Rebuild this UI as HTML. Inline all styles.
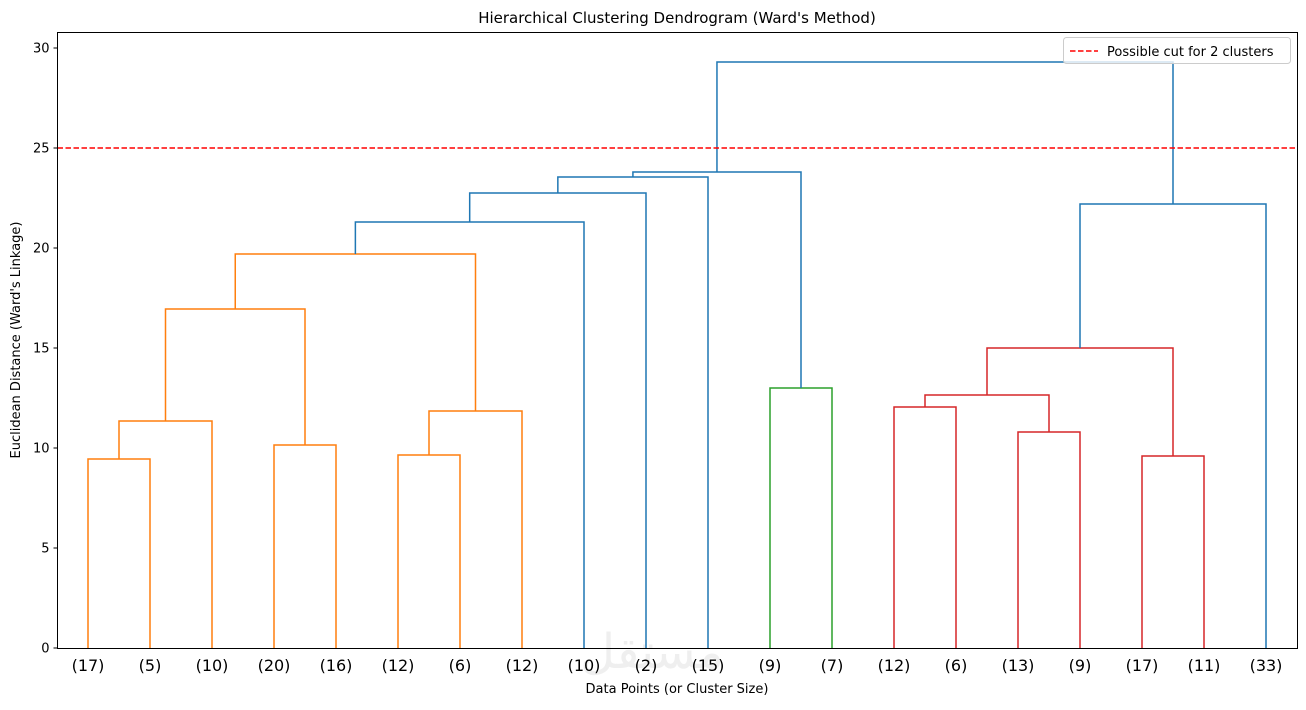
<!DOCTYPE html>
<html><head><meta charset="utf-8"><style>
body{margin:0;background:#fff;}
svg text{font-family:"DejaVu Sans","Liberation Sans",sans-serif;}
</style></head><body>
<svg id="chart" width="1306" height="705" xmlns="http://www.w3.org/2000/svg">
<rect width="1306" height="705" fill="#fff"/>
<text x="677" y="23" font-size="15" text-anchor="middle">Hierarchical Clustering Dendrogram (Ward's Method)</text>
<text x="652" y="668" font-size="48" fill="#000" opacity="0.06" text-anchor="middle" font-family="Liberation Sans, sans-serif">مستقل</text>
<g id="plot"></g>
<rect x="57.5" y="32.5" width="1240" height="616" fill="none" stroke="#000" stroke-width="1"/>
<text x="677" y="693" font-size="13" text-anchor="middle">Data Points (or Cluster Size)</text>
<text transform="translate(20,340) rotate(-90)" font-size="13" text-anchor="middle">Euclidean Distance (Ward's Linkage)</text>
<g>
<rect x="1063.5" y="37.5" width="227" height="26" rx="3" fill="#fff" fill-opacity="0.8" stroke="#ccc"/>
<line x1="1070" y1="51" x2="1098" y2="51" stroke="red" stroke-width="1.5" stroke-dasharray="5.5,2.5"/>
<text x="1107" y="56" font-size="13">Possible cut for 2 clusters</text>
</g>
</svg>
<script>
const leafLabels=["(17)","(5)","(10)","(20)","(16)","(12)","(6)","(12)","(10)","(2)","(15)","(9)","(7)","(12)","(6)","(13)","(9)","(17)","(11)","(33)"];
const mergeLeft=[0,20,3,21,5,24,23,26,27,28,11,29,13,15,32,17,34,36,31];
const mergeRight=[1,2,4,22,6,7,25,8,9,10,12,30,14,16,33,18,35,19,37];
const mergeHeights=[9.45,11.35,10.15,16.95,9.65,11.85,19.7,21.3,22.75,23.55,13.0,23.8,12.05,10.8,12.65,9.6,15.0,22.2,29.3];
const mergeColors=["o","o","o","o","o","o","o","b","b","b","g","b","r","r","r","r","r","b","b"];
const yTicks=[0,5,10,15,20,25,30];
const cutHeight=25;
const C={o:"#ff7f0e",b:"#1f77b4",g:"#2ca02c",r:"#d62728"};
const NS="http://www.w3.org/2000/svg";
const plot=document.getElementById("plot");
const x0=57.5,x1=1297.5,yBase=648,yTop=48;
const yS=v=>yBase-(v/30)*(yBase-yTop);
const n=leafLabels.length;
const xS=i=>88+i*(1266-88)/(n-1);
function mk(t,a){const e=document.createElementNS(NS,t);for(const k in a)e.setAttribute(k,a[k]);plot.appendChild(e);return e;}
yTicks.forEach(v=>{
 const y=yS(v);
 const l=mk("line",{x1:x0-4,x2:x0,y1:y,y2:y,stroke:"#000"});
 
 
 const t=mk("text",{x:x0-8,y:y+4.5,"font-size":13,"text-anchor":"end"});
 t.textContent=v;
 
 
});
const pos=[],hgt=[];
leafLabels.forEach((lab,i)=>{
 pos[i]=xS(i);hgt[i]=0;
 const t=mk("text",{x:xS(i),y:671,"font-size":16,"text-anchor":"middle"});
 t.textContent=lab;
 
 
});
mergeHeights.forEach((h,k)=>{
 const a=mergeLeft[k],b=mergeRight[k];
 const xa=pos[a],xb=pos[b];
 const d=`M${xa},${yS(hgt[a])}V${yS(h)}H${xb}V${yS(hgt[b])}`;
 const p=mk("path",{d,fill:"none",stroke:C[mergeColors[k]],"stroke-width":1.5});
 
 
 pos[n+k]=(xa+xb)/2;hgt[n+k]=h;
});
const cut=mk("line",{x1:x0,x2:x1,y1:yS(cutHeight),y2:yS(cutHeight),stroke:"red","stroke-width":1.5,"stroke-dasharray":"5.5,2.5"});


</script>
</body></html>
